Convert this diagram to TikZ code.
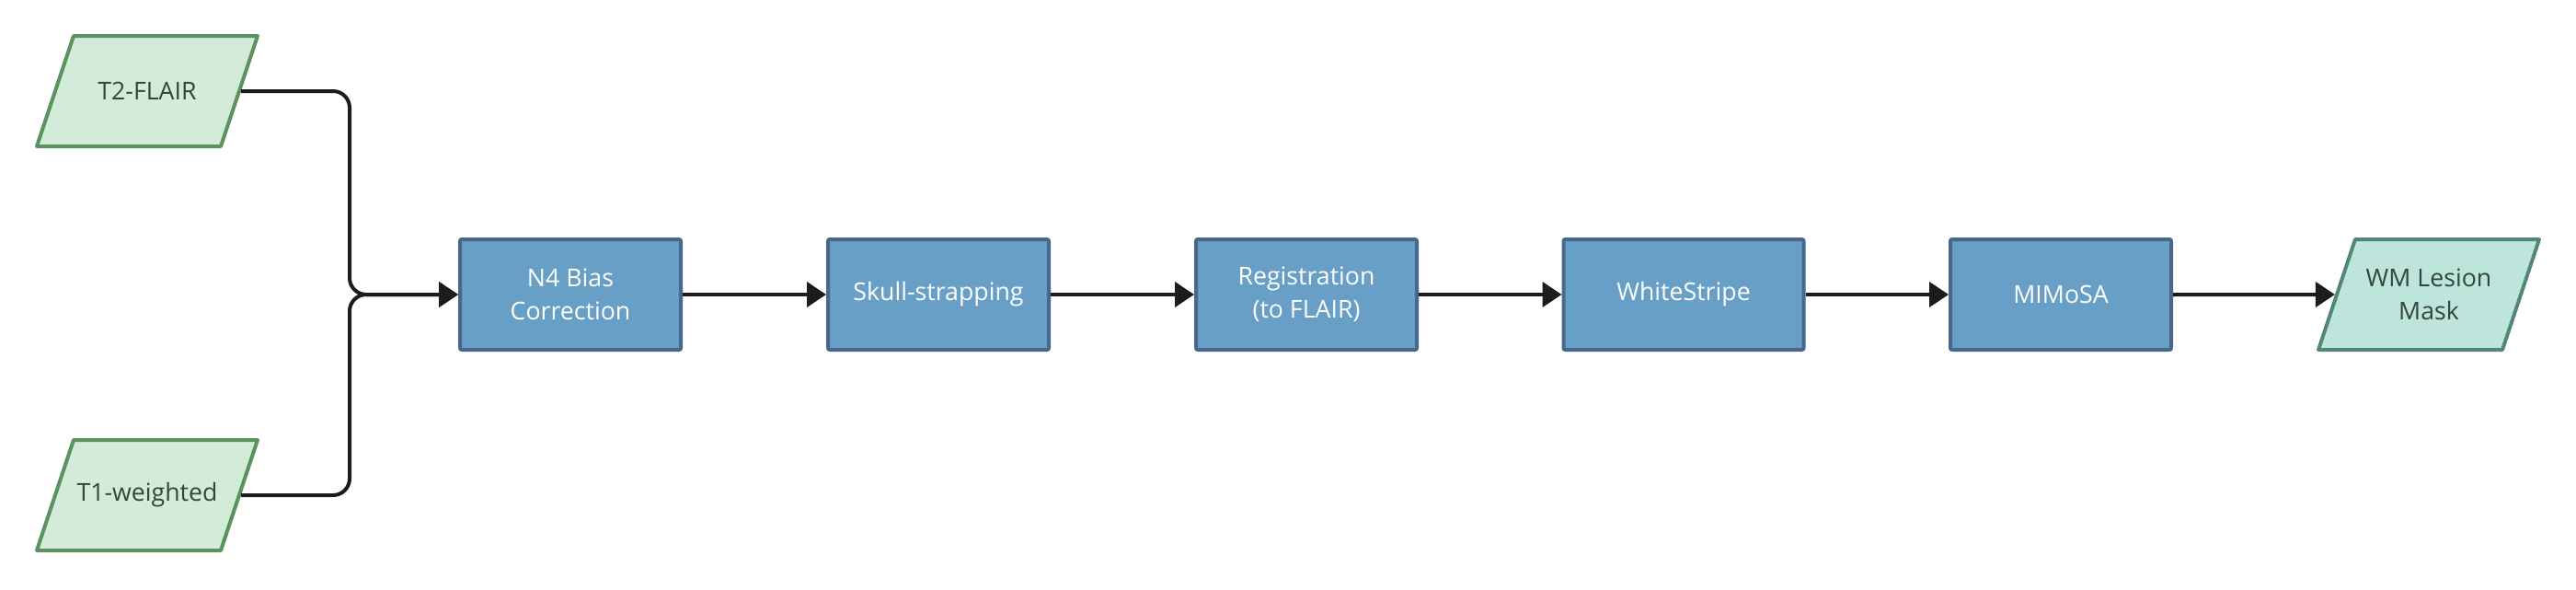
\documentclass[tikz,border=0pt]{standalone}
\usepackage{fontspec}
\setmainfont{Open Sans}
\usepackage{xcolor}
\usetikzlibrary{shapes.geometric, positioning, arrows.meta}

\definecolor{stepfill}{HTML}{689FC6}
\definecolor{stepline}{HTML}{46688B}
\definecolor{infill}{HTML}{D3ECD9}
\definecolor{inline}{HTML}{5A9360}
\definecolor{outfill}{HTML}{BDE5DC}
\definecolor{outline}{HTML}{528677}
\definecolor{datatext}{HTML}{33463A}
\definecolor{flowcol}{HTML}{1C1C1C}

% text block of the data shapes
\newcommand{\datalabel}[1]{\parbox[c][1.2cm][c]{1.6cm}{\centering #1}}

\begin{document}
\begin{tikzpicture}[
		stepbox/.style={draw=stepline, fill=stepfill, line width=0.04cm, rounded corners=0.02cm,
			minimum width=2.4cm, minimum height=1.2cm, inner sep=0pt, align=center, text=white,
			font=\fontsize{7.6}{10.4}\selectfont},
		databox/.style={trapezium, trapezium left angle=71.57, trapezium right angle=108.43,
			line width=0.04cm, line join=round, inner sep=0pt, text=datatext,
			font=\fontsize{7.6}{10.4}\selectfont},
		flow/.style={draw=flowcol, line width=0.04cm, rounded corners=0.18cm,
			-{Triangle[length=0.21cm, width=0.27cm]}}
	]
		
		\useasboundingbox (0,0) rectangle (28,-6.4);
		
		% Input images
		\node[databox, draw=inline, fill=infill] (flair) at (1.6,-0.99) {\datalabel{T2-FLAIR}};
		\node[databox, draw=inline, fill=infill] (tone) at (1.6,-5.38) {\datalabel{T1-weighted}};
		
		% Processing steps
		\node[stepbox] (bias) at (6.2,-3.2) {N4 Bias\\ Correction};
		\node[stepbox] (skull) at (10.2,-3.2) {Skull-strapping};
		\node[stepbox] (reg) at (14.2,-3.2) {Registration\\ (to FLAIR)};
		\node[stepbox, minimum width=2.61cm] (ws) at (18.3,-3.2) {WhiteStripe};
		\node[stepbox] (mimosa) at (22.4,-3.2) {MIMoSA};
		
		% Output
		\node[databox, draw=outline, fill=outfill] (mask) at (26.4,-3.2) {\datalabel{WM Lesion\\ Mask}};
		
		% Arrows between the steps
		\coordinate (join) at (3.8,-3.2);
		\draw[flow] (flair.east) -| (join) -- (bias.west);
		\draw[flow] (tone.east) -| (join) -- (bias.west);
		\draw[flow] (bias) -- (skull);
		\draw[flow] (skull) -- (reg);
		\draw[flow] (reg) -- (ws);
		\draw[flow] (ws) -- (mimosa);
		\draw[flow] (mimosa) -- (mask);
		
	\end{tikzpicture}
\end{document}
